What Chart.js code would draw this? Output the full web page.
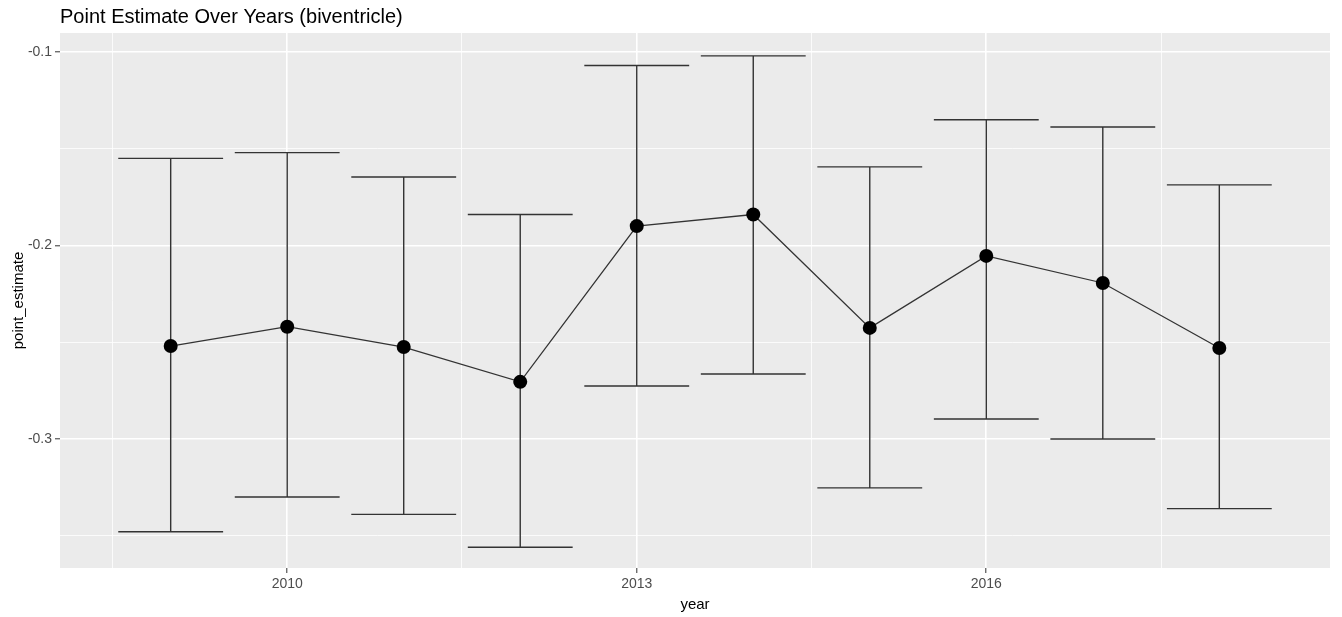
<!DOCTYPE html>
<html>
<head>
<meta charset="utf-8">
<script src="https://cdn.jsdelivr.net/npm/chart.js@4.4.0/dist/chart.umd.min.js"></script>
<style>
  html, body { margin: 0; padding: 0; background: #fff; }
  #wrap { width: 1342px; height: 617px; }
</style>
</head>
<body>
<div id="wrap"><canvas id="estChart"></canvas></div>
<script>
const years = [2009, 2010, 2011, 2012, 2013, 2014, 2015, 2016, 2017, 2018];
const pointEstimates = [-0.252, -0.242, -0.2525, -0.2705, -0.190, -0.184, -0.2426, -0.2054, -0.2194, -0.253];
const upperBounds = [-0.155, -0.152, -0.1646, -0.184, -0.107, -0.102, -0.1594, -0.135, -0.1388, -0.1687];
const lowerBounds = [-0.348, -0.330, -0.339, -0.356, -0.2726, -0.2664, -0.3253, -0.2897, -0.300, -0.336];

const xMajorTicks = [2010, 2013, 2016];
const xMinorTicks = [2008.5, 2011.5, 2014.5, 2017.5];
const yMajorTicks = [-0.3, -0.2, -0.1];
const yMinorTicks = [-0.35, -0.25, -0.15];

const capHalfWidth = 0.45;
const lineColor = '#333333';
const fontFamily = '"Liberation Sans", Arial, Helvetica, sans-serif';

function isMajor(list, v) {
    return list.some(t => Math.abs(t - v) < 1e-9);
}

const panelBackground = {
    id: 'panelBackground',
    beforeDraw(chart) {
        const { ctx, chartArea } = chart;
        ctx.save();
        ctx.fillStyle = '#EBEBEB';
        ctx.fillRect(chartArea.left, chartArea.top, chartArea.right - chartArea.left, chartArea.bottom - chartArea.top);
        ctx.restore();
    }
};

const errorBars = {
    id: 'errorBars',
    beforeDatasetsDraw(chart) {
        const { ctx } = chart;
        const xs = chart.scales.x;
        const ys = chart.scales.y;
        ctx.save();
        ctx.strokeStyle = lineColor;
        ctx.lineWidth = 1.4;
        years.forEach((yr, i) => {
            const x = xs.getPixelForValue(yr);
            const x0 = xs.getPixelForValue(yr - capHalfWidth);
            const x1 = xs.getPixelForValue(yr + capHalfWidth);
            const yHi = ys.getPixelForValue(upperBounds[i]);
            const yLo = ys.getPixelForValue(lowerBounds[i]);
            ctx.beginPath();
            ctx.moveTo(x, yHi);
            ctx.lineTo(x, yLo);
            ctx.moveTo(x0, yHi);
            ctx.lineTo(x1, yHi);
            ctx.moveTo(x0, yLo);
            ctx.lineTo(x1, yLo);
            ctx.stroke();
        });
        ctx.restore();
    }
};

const ctx = document.querySelector('#estChart').getContext('2d');

const estChart = new Chart(ctx, {
    type: 'line',
    data: {
        datasets: [{
            label: 'point_estimate',
            data: years.map((yr, i) => ({ x: yr, y: pointEstimates[i] })),
            borderColor: lineColor,
            borderWidth: 1.3,
            pointRadius: 7,
            pointHoverRadius: 7,
            pointBackgroundColor: '#000000',
            pointBorderColor: '#000000',
            pointBorderWidth: 0,
            tension: 0
        }]
    },
    options: {
        responsive: true,
        maintainAspectRatio: false,
        animation: false,
        events: [],
        layout: {
            padding: { left: 0, right: 12, top: 0, bottom: 0 }
        },
        plugins: {
            legend: { display: false },
            tooltip: { enabled: false },
            title: {
                display: true,
                text: 'Point Estimate Over Years (biventricle)',
                align: 'start',
                fullSize: false,
                color: '#000000',
                font: { family: fontFamily, size: 20, weight: 'normal' },
                padding: { top: 5, bottom: 4 }
            }
        },
        scales: {
            x: {
                type: 'linear',
                min: 2008.05,
                max: 2018.95,
                afterBuildTicks(scale) {
                    scale.ticks = [...xMinorTicks, ...xMajorTicks].sort((a, b) => a - b).map(v => ({ value: v }));
                },
                afterFit(scale) {
                    scale.height = 49;
                },
                ticks: {
                    color: '#4D4D4D',
                    font: { family: fontFamily, size: 14 },
                    padding: 3,
                    autoSkip: false,
                    maxRotation: 0,
                    callback: v => isMajor(xMajorTicks, v) ? String(v) : ''
                },
                grid: {
                    color: '#FFFFFF',
                    lineWidth: c => isMajor(xMajorTicks, c.tick.value) ? 1.6 : 0.8,
                    tickColor: c => isMajor(xMajorTicks, c.tick.value) ? '#333333' : 'rgba(0,0,0,0)',
                    tickLength: 5,
                    tickWidth: 1
                },
                border: { display: false },
                title: {
                    display: true,
                    text: 'year',
                    color: '#000000',
                    font: { family: fontFamily, size: 15 },
                    padding: { top: 0, bottom: 3 }
                }
            },
            y: {
                type: 'linear',
                min: -0.3667,
                max: -0.0902,
                afterBuildTicks(scale) {
                    scale.ticks = [...yMinorTicks, ...yMajorTicks].sort((a, b) => a - b).map(v => ({ value: v }));
                },
                afterFit(scale) {
                    scale.width = 60;
                },
                ticks: {
                    color: '#4D4D4D',
                    font: { family: fontFamily, size: 14 },
                    padding: 3,
                    autoSkip: false,
                    callback: v => isMajor(yMajorTicks, v) ? String(v) : ''
                },
                grid: {
                    color: '#FFFFFF',
                    lineWidth: c => isMajor(yMajorTicks, c.tick.value) ? 1.6 : 0.8,
                    tickColor: c => isMajor(yMajorTicks, c.tick.value) ? '#333333' : 'rgba(0,0,0,0)',
                    tickLength: 5,
                    tickWidth: 1
                },
                border: { display: false },
                title: {
                    display: true,
                    text: 'point_estimate',
                    color: '#000000',
                    font: { family: fontFamily, size: 15 },
                    padding: { top: 10, bottom: 0 }
                }
            }
        }
    },
    plugins: [panelBackground, errorBars]
});
</script>
</body>
</html>
